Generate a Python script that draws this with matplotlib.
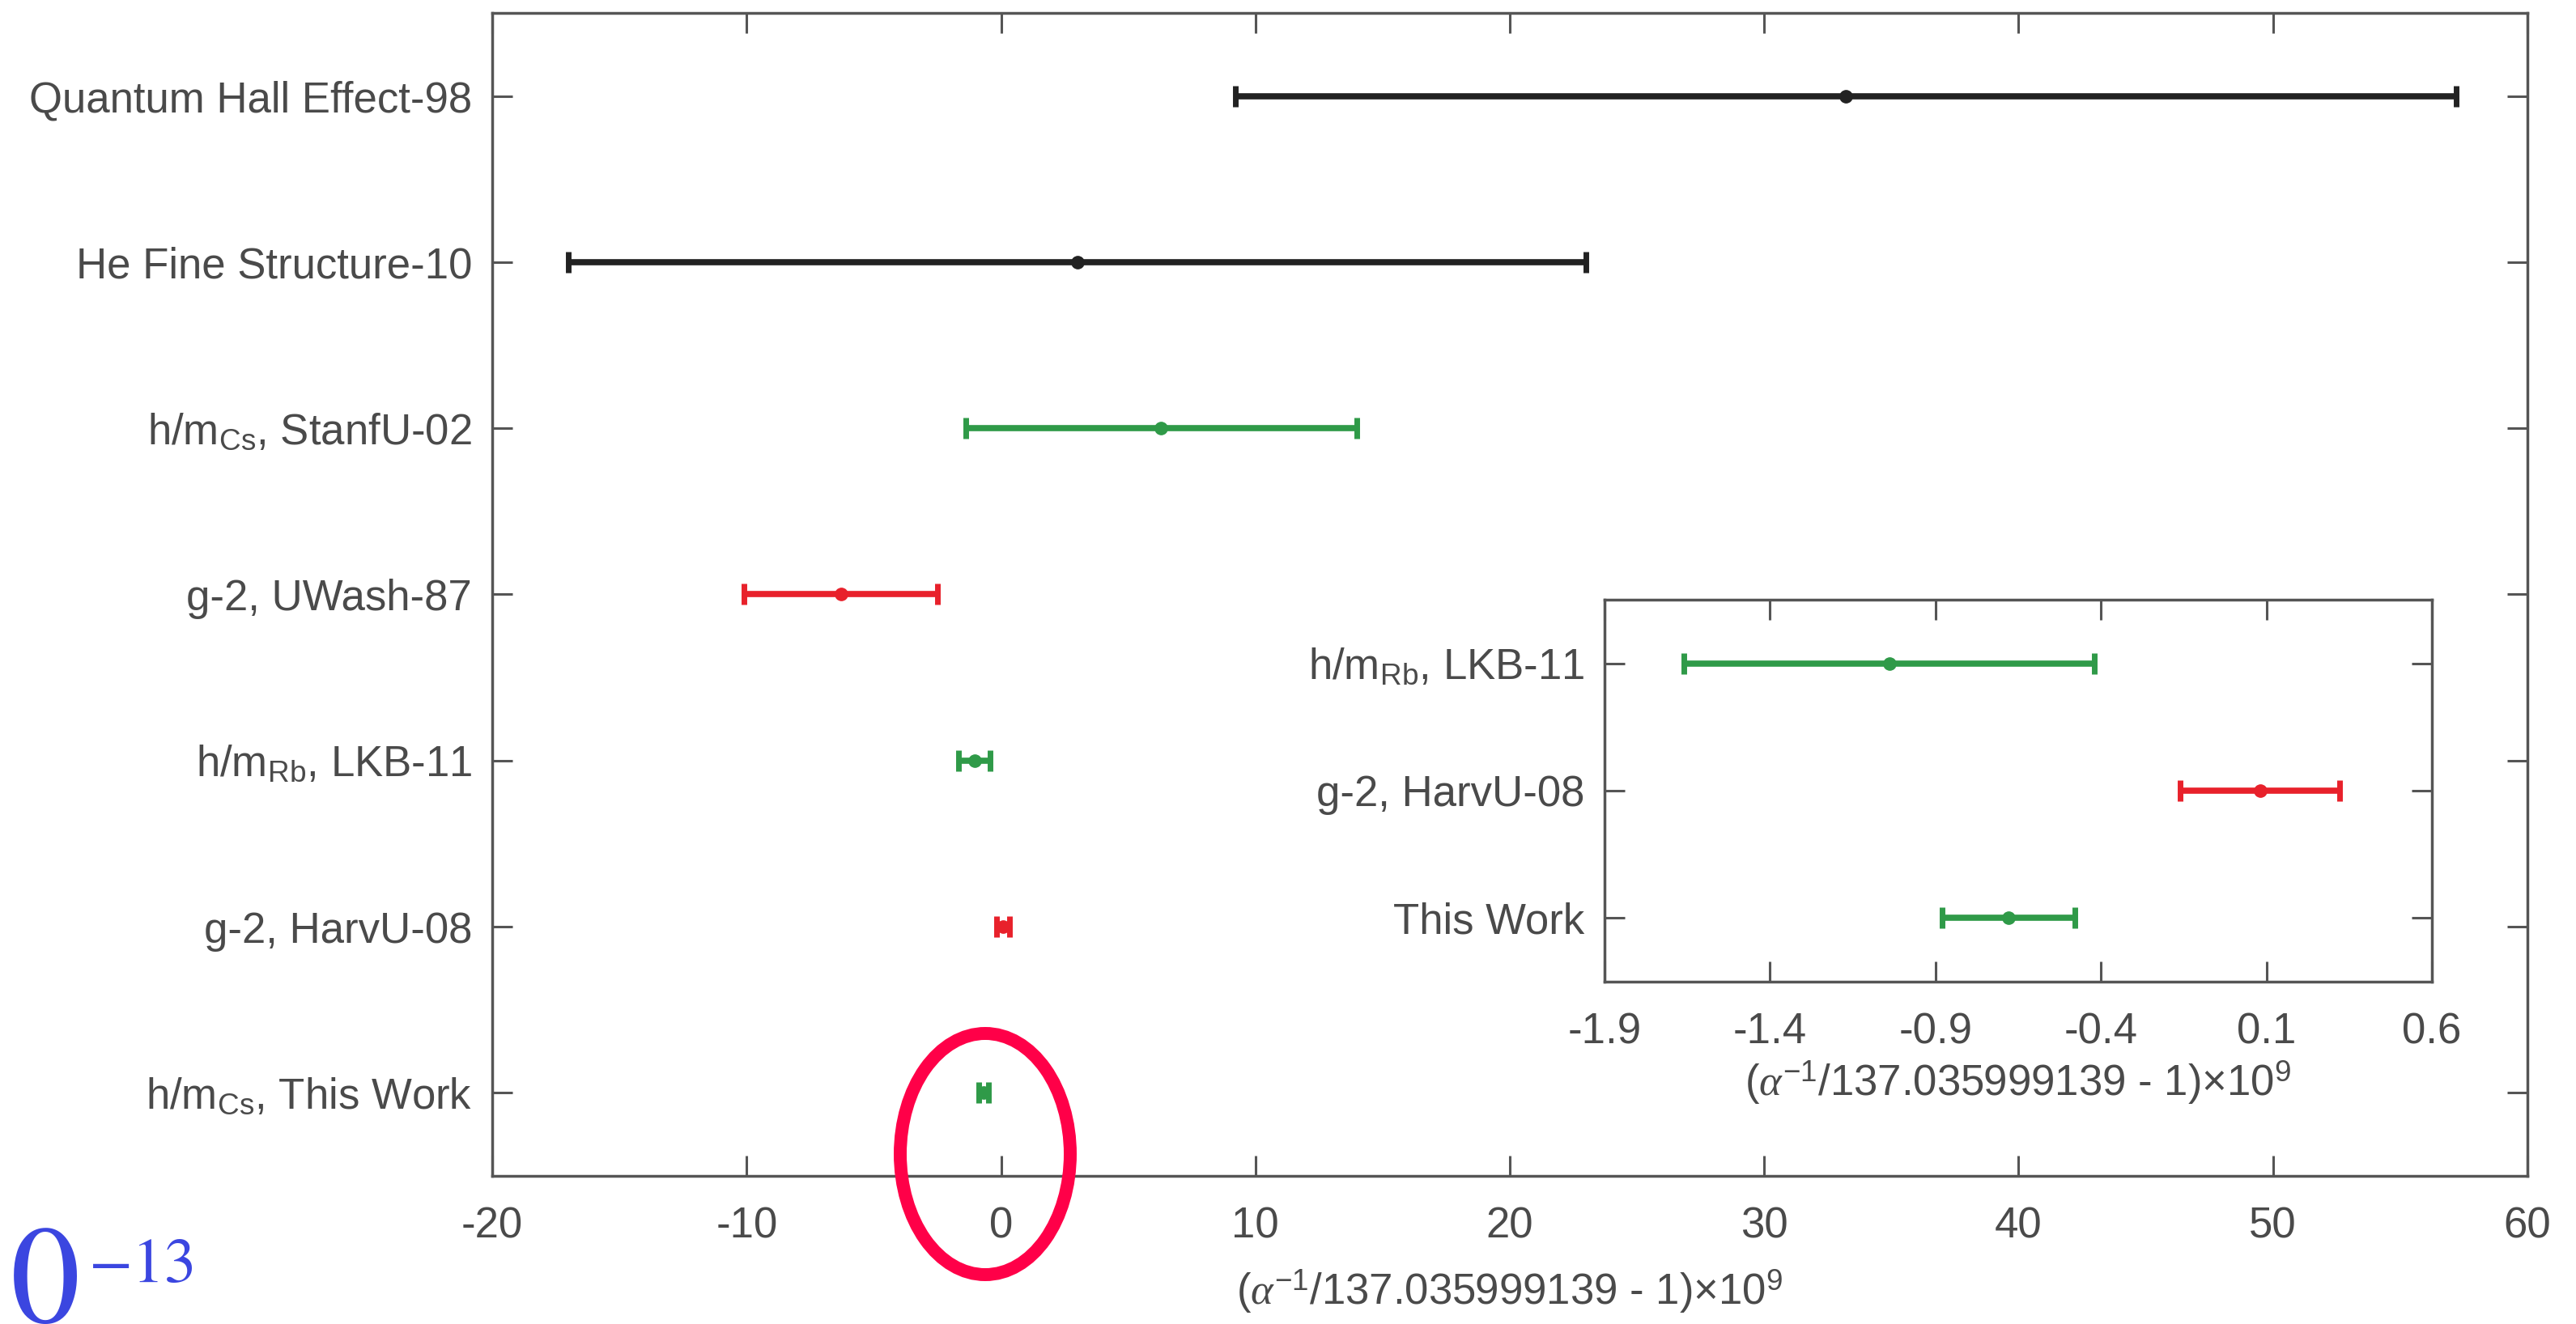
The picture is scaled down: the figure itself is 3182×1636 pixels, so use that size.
import matplotlib
matplotlib.use("Agg")
import matplotlib.pyplot as plt
from matplotlib.patches import Ellipse

plt.rcParams['font.family'] = ['Liberation Sans', 'DejaVu Sans']
plt.rcParams['mathtext.fontset'] = 'custom'
plt.rcParams['mathtext.rm'] = 'Liberation Sans'
plt.rcParams['mathtext.it'] = 'Liberation Serif:italic'
plt.rcParams['mathtext.sf'] = 'Liberation Sans'
plt.rcParams['axes.unicode_minus'] = False

# main panel, top to bottom
labels = ['Quantum Hall Effect-98', 'He Fine Structure-10', r'h/m$_{\rm Cs}$, StanfU-02',
          'g-2, UWash-87', r'h/m$_{\rm Rb}$, LKB-11', 'g-2, HarvU-08', r'h/m$_{\rm Cs}$, This Work']
values = [33.2, 3.0, 6.3, -6.3, -1.04, 0.08, -0.68]
errors = [24.0, 20.0, 7.7, 3.8, 0.62, 0.24, 0.20]
colors = ['k', 'k', 'g', 'r', 'g', 'r', 'g']

# inset, top to bottom
in_labels = [r'h/m$_{\rm Rb}$, LKB-11', 'g-2, HarvU-08', 'This Work']
in_values = [-1.04, 0.08, -0.68]
in_errors = [0.62, 0.24, 0.20]
in_colors = ['g', 'r', 'g']

cmap = {'k': '#222222', 'g': '#2f9a48', 'r': '#e8212b'}
txt = '#4a4a4a'
xlab = r'($\alpha^{-1}$/137.035999139 - 1)$\times$10$^9$'

fig = plt.figure(figsize=(31.82, 16.36), dpi=100)
ax = fig.add_axes([0.1911, 0.1119, 0.7900, 0.8783])
ins = fig.add_axes([0.6229, 0.2586, 0.3212, 0.2885])


def draw(a, labs, vals, errs, cols):
    n = len(labs)
    ys = list(range(n, 0, -1))
    for v, e, c, y in zip(vals, errs, cols, ys):
        a.errorbar(v, y, xerr=e, fmt='o', color=cmap[c], ms=11,
                   elinewidth=5.5, capsize=9.5, capthick=5)
    a.set_yticks(ys)
    a.set_yticklabels(labs)
    a.set_ylim(0.5, n + 0.5)
    for s in a.spines.values():
        s.set_color('#555555')
        s.set_linewidth(2.5)
    a.tick_params(direction='in', length=18, width=2.2, color='#555555',
                  labelsize=38, labelcolor=txt, top=True, right=True)
    a.tick_params(axis='y', pad=18)
    a.tick_params(axis='x', pad=27)


draw(ax, labels, values, errors, colors)
ax.set_xlim(-20, 60)
ax.set_xticks(range(-20, 61, 10))
ax.set_xlabel(xlab, fontsize=38, color=txt, labelpad=19)

draw(ins, in_labels, in_values, in_errors, in_colors)
ins.set_xlim(-1.9, 0.6)
ins.set_xticks([-1.9, -1.4, -0.9, -0.4, 0.1, 0.6])
ins.set_xticklabels(['-1.9', '-1.4', '-0.9', '-0.4', '0.1', '0.6'])
ins.set_xlabel(xlab, fontsize=38, color=txt, labelpad=6)

# red highlight around this work
fig.patches.append(Ellipse((1217 / 3182, 1 - 1426 / 1636), 210 / 3182, 298 / 1636,
                           transform=fig.transFigure, fill=False,
                           edgecolor='#ff0048', linewidth=11.5, zorder=10))

# cropped annotation at the lower left
blue = '#3b46e0'
fig.text(100 / 3182, 2 / 1636, '10', color=blue, fontsize=124,
         family='STIXGeneral', ha='right', va='baseline')
fig.text(110 / 3182, 1 - 1584 / 1636, '\u221213', color=blue, fontsize=57,
         family='STIXGeneral', ha='left', va='baseline')

fig.savefig('out.png', dpi=100)
